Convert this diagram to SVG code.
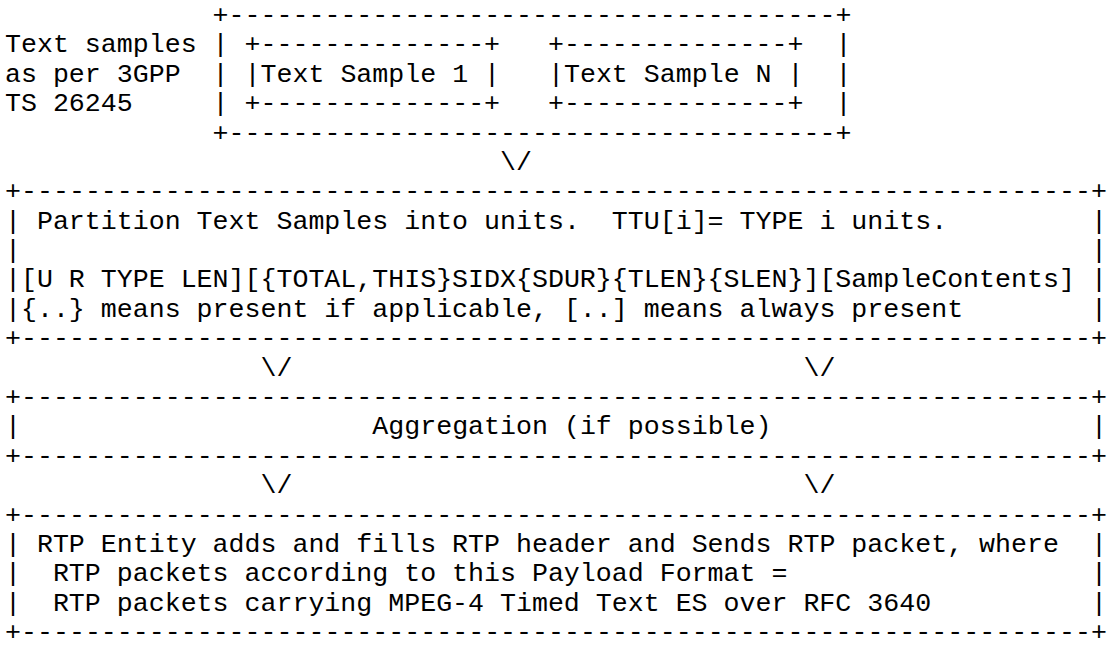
<svg xmlns="http://www.w3.org/2000/svg" width="1107" height="650" viewBox="0 0 1107 650">
<style>
text{font-family:"Liberation Mono","Courier New",monospace;font-size:26.62px;fill:#000;white-space:pre}
</style>
<rect width="1107" height="650" fill="#fff"/>
<g id="text-samples">
<text x="5" y="52.4">Text samples</text>
<text x="5" y="81.8">as per 3GPP</text>
<text x="5" y="111.1">TS 26245</text>
<text x="212.6" y="23">+</text><text x="228.6" y="23" textLength="606.9" lengthAdjust="spacing">--------------------------------------</text><text x="835.4" y="23">+</text>
<text x="212.6" y="52.4">|</text><text x="835.4" y="52.4">|</text>
<text x="212.6" y="81.8">|</text><text x="835.4" y="81.8">|</text>
<text x="212.6" y="111.1">|</text><text x="835.4" y="111.1">|</text>
<text x="212.6" y="140.5">+</text><text x="228.6" y="140.5" textLength="606.9" lengthAdjust="spacing">--------------------------------------</text><text x="835.4" y="140.5">+</text>
</g>
<g id="sample-1">
<text x="244.6" y="52.4">+--------------+</text>
<text x="244.6" y="81.8">|Text Sample 1 |</text>
<text x="244.6" y="111.1">+--------------+</text>
</g>
<g id="sample-n">
<text x="548" y="52.4">+--------------+</text>
<text x="548" y="81.8">|Text Sample N |</text>
<text x="548" y="111.1">+--------------+</text>
</g>
<g id="partition">
<text x="5" y="199.3">+</text><text x="21" y="199.3" textLength="1070" lengthAdjust="spacing">-------------------------------------------------------------------</text><text x="1091" y="199.3">+</text>
<text x="5" y="228.7">| Partition Text Samples into units.  TTU[i]= TYPE i units.</text><text x="1091" y="228.7">|</text>
<text x="5" y="258">|</text><text x="1091" y="258">|</text>
<text x="5" y="287.4">|[U R TYPE LEN][{TOTAL,THIS}SIDX{SDUR}{TLEN}{SLEN}][SampleContents]</text><text x="1091" y="287.4">|</text>
<text x="5" y="316.8">|{..} means present if applicable, [..] means always present</text><text x="1091" y="316.8">|</text>
<text x="5" y="346.2">+</text><text x="21" y="346.2" textLength="1070" lengthAdjust="spacing">-------------------------------------------------------------------</text><text x="1091" y="346.2">+</text>
</g>
<g id="aggregation">
<text x="5" y="404.9">+</text><text x="21" y="404.9" textLength="1070" lengthAdjust="spacing">-------------------------------------------------------------------</text><text x="1091" y="404.9">+</text>
<text x="5" y="434.3">|</text><text x="372.3" y="434.3">Aggregation (if possible)</text><text x="1091" y="434.3">|</text>
<text x="5" y="463.7">+</text><text x="21" y="463.7" textLength="1070" lengthAdjust="spacing">-------------------------------------------------------------------</text><text x="1091" y="463.7">+</text>
</g>
<g id="rtp">
<text x="5" y="522.5">+</text><text x="21" y="522.5" textLength="1070" lengthAdjust="spacing">-------------------------------------------------------------------</text><text x="1091" y="522.5">+</text>
<text x="5" y="551.8">| RTP Entity adds and fills RTP header and Sends RTP packet, where</text><text x="1091" y="551.8">|</text>
<text x="5" y="581.2">|</text><text x="52.9" y="581.2">RTP packets according to this Payload Format =</text><text x="1091" y="581.2">|</text>
<text x="5" y="610.6">|</text><text x="52.9" y="610.6">RTP packets carrying MPEG-4 Timed Text ES over RFC 3640</text><text x="1091" y="610.6">|</text>
<text x="5" y="640">+</text><text x="21" y="640" textLength="1070" lengthAdjust="spacing">-------------------------------------------------------------------</text><text x="1091" y="640">+</text>
</g>
<g id="connectors">
<text x="500.1" y="169.9">\/</text>
<text x="260.5" y="375.6">\/</text>
<text x="803.5" y="375.6">\/</text>
<text x="260.5" y="493.1">\/</text>
<text x="803.5" y="493.1">\/</text>
</g>
</svg>
